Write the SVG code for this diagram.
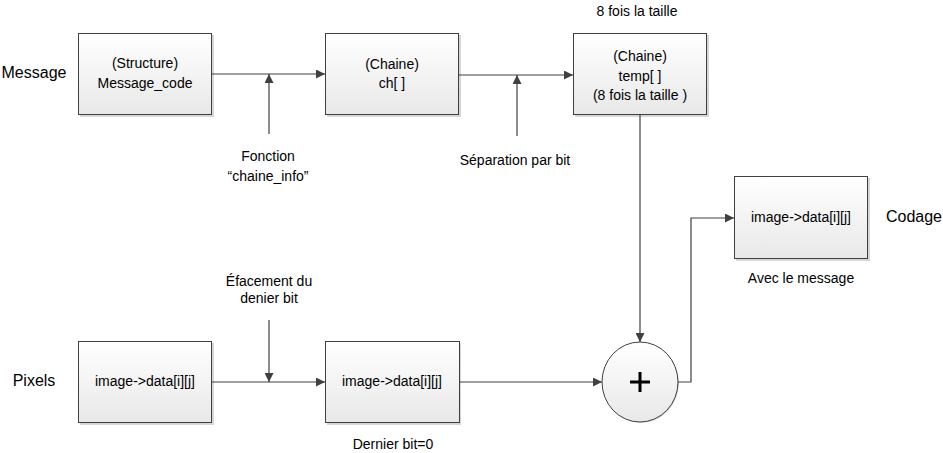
<svg xmlns="http://www.w3.org/2000/svg" width="943" height="453" viewBox="0 0 943 453">
<defs>
<linearGradient id="g" x1="0" y1="0" x2="0" y2="1">
<stop offset="0" stop-color="#ffffff"/>
<stop offset="1" stop-color="#e8e8e8"/>
</linearGradient>
<marker id="a" viewBox="0 0 10 10" refX="10" refY="5" markerWidth="9" markerHeight="9" markerUnits="userSpaceOnUse" orient="auto">
<path d="M0,0 L10,5 L0,10 z" fill="#404040"/>
</marker>
</defs>
<style>
.box{fill:url(#g);stroke:#404040;stroke-width:1}
.sh{fill:#d6d6d6}
.t{font-family:"Liberation Sans",Arial,sans-serif;font-size:14px;fill:#000;text-anchor:middle;dominant-baseline:middle}
.big{font-size:16px}
.c{fill:none;stroke:#404040;stroke-width:1.2}
</style>
<rect width="943" height="453" fill="#fff"/>
<g id="box1">
<rect class="sh" x="80" y="35" width="134" height="82"/>
<rect class="box" x="78.5" y="33.5" width="133" height="81"/>
<text class="t" x="145" y="64">(Structure)</text>
<text class="t" x="145" y="84">Message_code</text>
</g>
<g id="box2">
<rect class="sh" x="327" y="35" width="134" height="82"/>
<rect class="box" x="325.5" y="33.5" width="133" height="81"/>
<text class="t" x="392" y="65">(Chaine)</text>
<text class="t" x="392" y="84">ch[ ]</text>
</g>
<g id="box3">
<rect class="sh" x="575" y="35" width="134" height="82"/>
<rect class="box" x="573.5" y="33.5" width="133" height="81"/>
<text class="t" x="640" y="57">(Chaine)</text>
<text class="t" x="640" y="77">temp[ ]</text>
<text class="t" x="640" y="96">(8 fois la taille )</text>
</g>
<g id="box4">
<rect class="sh" x="736" y="178" width="134" height="83"/>
<rect class="box" x="734.5" y="176.5" width="133" height="82"/>
<text class="t" x="801" y="218">image-&gt;data[i][j]</text>
</g>
<g id="box5">
<rect class="sh" x="80" y="343" width="134" height="82"/>
<rect class="box" x="78.5" y="341.5" width="133" height="81"/>
<text class="t" x="145" y="382">image-&gt;data[i][j]</text>
</g>
<g id="box6">
<rect class="sh" x="327" y="343" width="134" height="82"/>
<rect class="box" x="325.5" y="341.5" width="134" height="81"/>
<text class="t" x="392" y="382">image-&gt;data[i][j]</text>
</g>
<g id="sum">
<ellipse cx="641" cy="383" rx="38" ry="40" fill="#d8d8d8"/>
<ellipse cx="640" cy="382" rx="38" ry="40" fill="url(#g)" stroke="#404040" stroke-width="1"/>
<path d="M640,372 V392 M630,382 H650" stroke="#000" stroke-width="3"/>
</g>
<g id="labels">
<text class="t big" x="34" y="74">Message</text>
<text class="t big" x="34" y="382">Pixels</text>
<text class="t big" x="914" y="218">Codage</text>
<text class="t" x="637" y="12">8 fois la taille</text>
<text class="t" x="268" y="157">Fonction</text>
<text class="t" x="268" y="177">“chaine_info”</text>
<text class="t" x="515" y="161">Séparation par bit</text>
<text class="t" x="269" y="282">Éfacement du</text>
<text class="t" x="269" y="299">denier bit</text>
<text class="t" x="393" y="445">Dernier bit=0</text>
<text class="t" x="801" y="279">Avec le message</text>
</g>
<g id="connectors">
<line class="c" x1="212" y1="74" x2="325" y2="74" marker-end="url(#a)"/>
<line class="c" x1="269" y1="134" x2="269" y2="74" marker-end="url(#a)"/>
<line class="c" x1="459" y1="75" x2="573" y2="75" marker-end="url(#a)"/>
<line class="c" x1="517" y1="136" x2="517" y2="75" marker-end="url(#a)"/>
<line class="c" x1="640" y1="115" x2="640" y2="342" marker-end="url(#a)"/>
<line class="c" x1="212" y1="382" x2="325" y2="382" marker-end="url(#a)"/>
<line class="c" x1="269" y1="320" x2="269" y2="382" marker-end="url(#a)"/>
<line class="c" x1="460" y1="382" x2="602" y2="382" marker-end="url(#a)"/>
<polyline class="c" points="678,382 691,382 691,218 734,218" marker-end="url(#a)"/>
</g>
</svg>
